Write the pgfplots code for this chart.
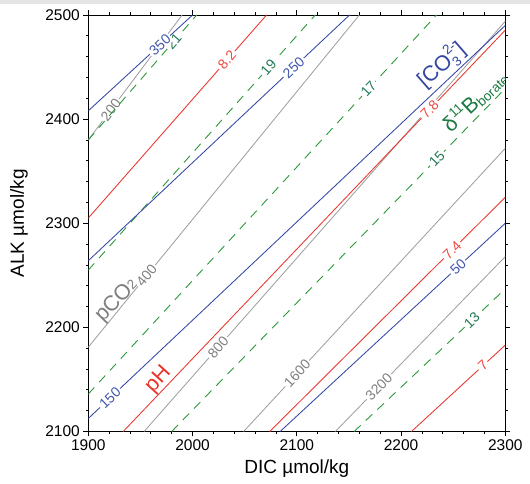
\documentclass[border=0pt]{standalone}
\usepackage{fontspec}
\setmainfont{Liberation Sans}
\usepackage{pgfplots}
\pgfplotsset{compat=1.18}
\definecolor{cred}{HTML}{E8342A}
\definecolor{cblue}{HTML}{3346A3}
\definecolor{cgray}{HTML}{A0A0A0}
\definecolor{cgreen}{HTML}{2A9A38}
\definecolor{lgreen}{HTML}{237A55}
\definecolor{dgreen}{HTML}{1B7A42}
\definecolor{lgray}{HTML}{7F7F7F}
\definecolor{lblue}{HTML}{4257AE}
\definecolor{lred}{HTML}{EE4A40}
\newcommand\bigf{\fontsize{21.5}{21.5}\selectfont}
\newcommand\smf{\fontsize{13.5}{13.5}\selectfont}
\newcommand\lbf{\fontsize{14}{14}\selectfont}
\tikzset{
  lbl/.style={sloped, fill=white, inner xsep=2pt, inner ysep=1pt, font=\lbf},
  gl/.style={cgray, line width=0.85pt},
  rl/.style={cred, line width=0.85pt},
  bl/.style={cblue, line width=0.85pt},
  dl/.style={cgreen, line width=0.9pt, dash pattern=on 9pt off 7pt},
}
\begin{document}
\begin{tikzpicture}
\path[use as bounding box] (-88.3pt,-52.5pt) rectangle (441.7pt,431.5pt);
\fill[black!10] (-88.3pt,427pt) rectangle (441.7pt,431.5pt);
\begin{axis}[
  at={(0pt,0pt)}, anchor=south west,
  width=417pt, height=416.5pt, scale only axis,
  xmin=1900, xmax=2300, ymin=2100, ymax=2500,
  xtick={1900,2000,2100,2200,2300},
  ytick={2100,2200,2300,2400,2500},
  minor tick num=4,
  tick align=outside,
  major tick length=5pt, minor tick length=2.5pt,
  axis line style={line width=0.8pt},
  every tick/.style={black, line width=0.7pt},
  /pgf/number format/assume math mode=true,
  /pgf/number format/1000 sep={},
  tick label style={font=\fontsize{15.5}{15.5}\selectfont},
  xlabel={DIC µmol/kg}, ylabel={ALK µmol/kg},
  label style={font=\fontsize{19}{19}\selectfont},
  xlabel style={at={(axis description cs:0.5,-0.1)}, anchor=base},
  ylabel style={at={(axis description cs:-0.166,0.5)}, anchor=center},
]
% pCO2 (gray)
\addplot[gl] coordinates {(1900,2380) (1990,2500)} node[lbl, pos=0.24, text=lgray]{200};
\addplot[gl] coordinates {(1900,2181) (2160,2500)} node[lbl, pos=0.215, text=lgray]{400};
\addplot[gl] coordinates {(1953.5,2100) (2300,2494)} node[lbl, pos=0.205, text=lgray]{800};
\addplot[gl] coordinates {(2049,2100) (2300,2372)} node[lbl, pos=0.205, text=lgray]{1600};
\addplot[gl] coordinates {(2137,2100) (2300,2268)} node[lbl, pos=0.256, text=lgray]{3200};
% d11B (green dashed)
\addplot[dl] coordinates {(1900,2380) (2004,2500)} node[lbl, pos=0.788, text=lgreen]{21};
\addplot[dl] coordinates {(1900,2255) (2117.7,2500)} node[lbl, pos=0.794, text=lgreen]{19};
\addplot[dl] coordinates {(1900,2136) (2234,2500)} node[lbl, pos=0.805, text=lgreen]{17};
\addplot[dl] coordinates {(1980,2100) (2300,2429.5)} node[lbl, pos=0.795, text=lgreen]{15};
\addplot[dl] coordinates {(2155,2100) (2300,2237)} node[lbl, pos=0.779, text=lgreen]{13};
% CO3 (blue)
\addplot[bl] coordinates {(1900,2408) (2000,2500)} node[lbl, pos=0.688, text=lblue]{350};
\addplot[bl] coordinates {(1900,2264) (2150.6,2500)} node[lbl, pos=0.786, text=lblue]{250};
\addplot[bl] coordinates {(1900,2112.5) (2300,2490)} node[lbl, pos=0.052, text=lblue]{150};
\addplot[bl] coordinates {(2084,2100) (2300,2300)} node[lbl, pos=0.79, text=lblue]{50};
% pH (red)
\addplot[rl] coordinates {(1900,2305) (2071,2500)} node[lbl, pos=0.778, text=lred]{8.2};
\addplot[rl] coordinates {(1933.5,2100) (2300,2485.5)} node[lbl, pos=0.802, text=lred]{7.8};
\addplot[rl] coordinates {(2074,2100) (2300,2325)} node[lbl, pos=0.774, text=lred]{7.4};
\addplot[rl] coordinates {(2210,2100) (2300,2183)} node[lbl, pos=0.762, text=lred]{7};
% big labels
\node[rotate=46, text=lgray, font=\bigf, inner sep=0pt] at (axis cs:1927.5,2225.6) {pCO\raisebox{0.1ex}{\smf 2}};
\node[rotate=48, text=cred, font=\bigf, inner sep=0pt] at (axis cs:1967.3,2149.5) {pH};
\node[rotate=41, text=cblue, font=\bigf, inner sep=0pt] at (axis cs:2238.5,2452) {[CO\rlap{\raisebox{0.85ex}{\smf 2-}}\raisebox{-0.45ex}{\smf 3}\,]};
\node[rotate=43, text=dgreen, font=\bigf, inner sep=0pt] at (axis cs:2270.3,2417.7) {δ\raisebox{0.75ex}{\smf 11}B\raisebox{-0.2ex}{\smf borate}};
\end{axis}
\end{tikzpicture}
\end{document}
